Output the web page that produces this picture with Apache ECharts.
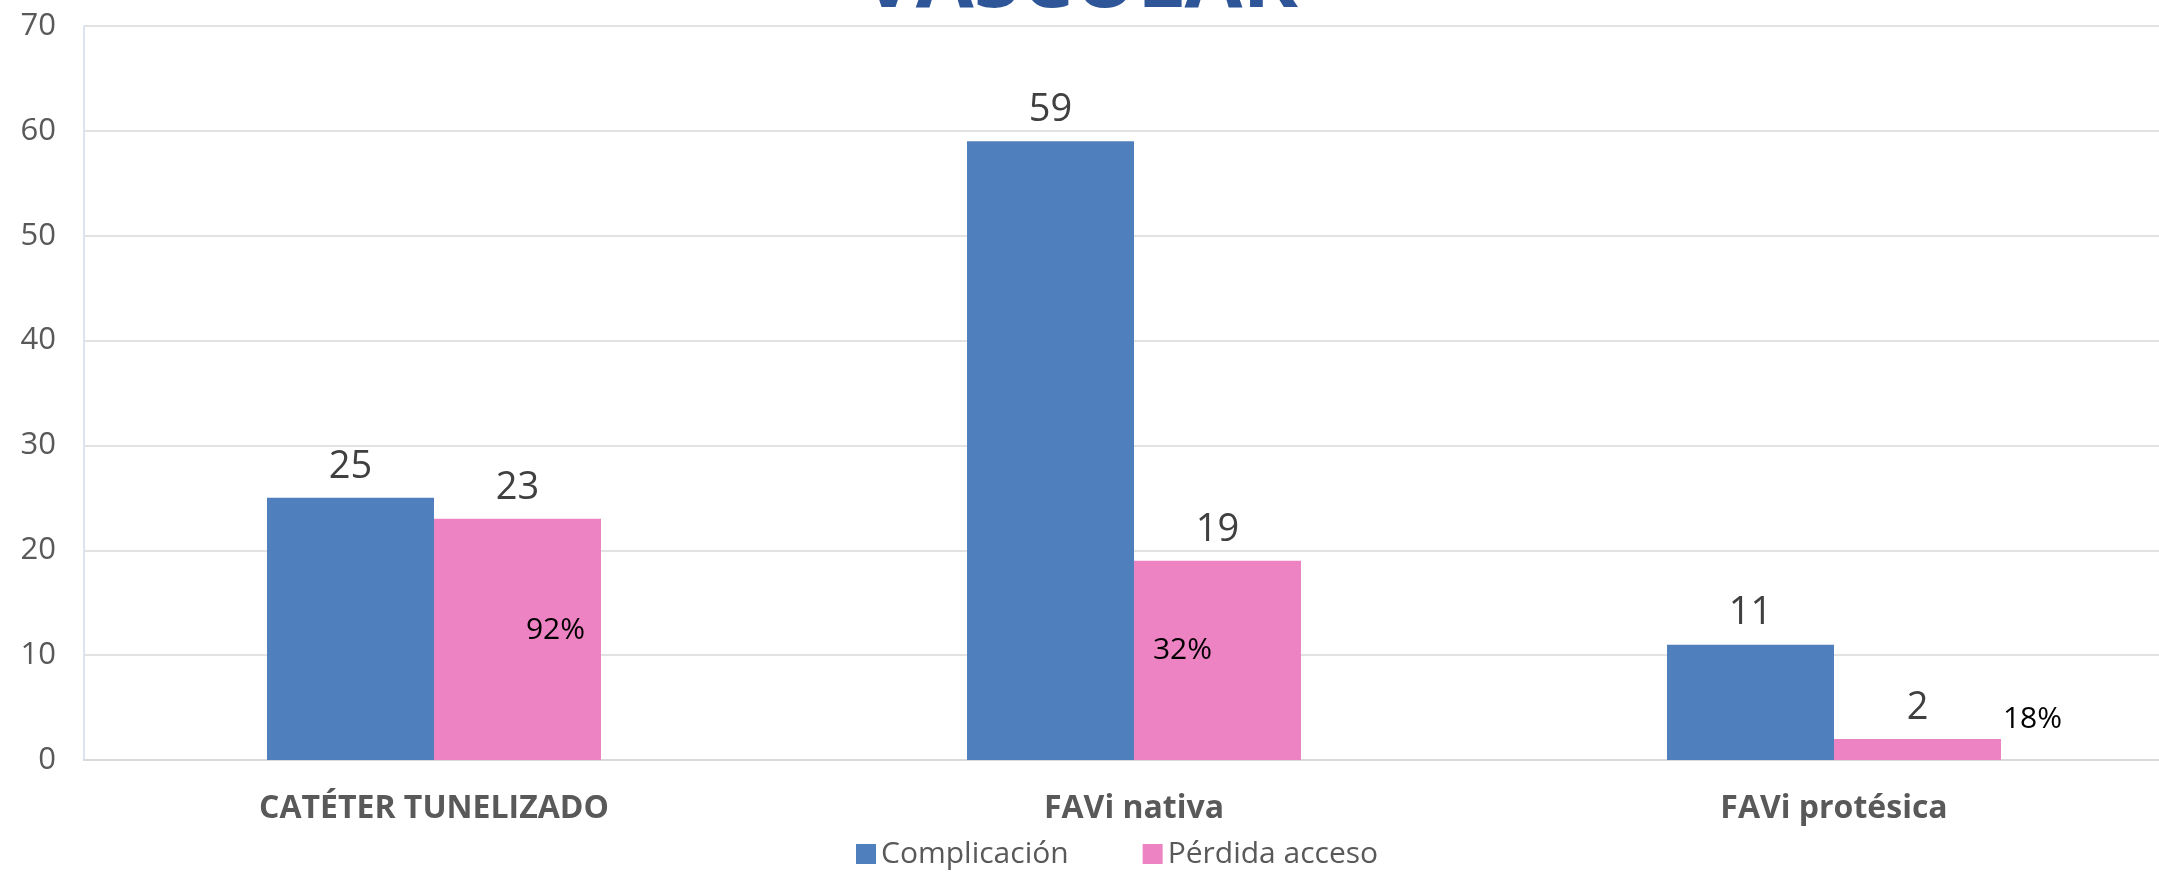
<!DOCTYPE html>
<html lang="es">
<head>
    <meta charset="UTF-8">
    <title>Acceso vascular</title>
    <style>
        html, body { margin: 0; padding: 0; background: #fff; }
    </style>
</head>
<body>

    <div id="echarts" style="width: 2159px; height: 874px"></div>
    <script src="https://cdn.jsdelivr.net/npm/echarts@6/dist/echarts.min.js"></script>
    <script>
        const categorias = ['CATÉTER TUNELIZADO', 'FAVi nativa', 'FAVi protésica'];
        const complicacion = [25, 59, 11];
        const perdidaAcceso = [23, 19, 2];
        const yTicks = [0, 10, 20, 30, 40, 50, 60, 70];

        // where the % text sits, relative to the top of each pink bar
        const pctOffsets = [[38, 112], [-35, 90], [115, -20]];

        const font = "'Open Sans', 'Noto Sans', sans-serif";

        const option = {
            animation: false,
            title: {
                text: 'VASCULAR',
                left: 'center',
                top: -64,
                textStyle: { color: '#2E5597', fontSize: 84, fontWeight: 'bold', fontFamily: font }
            },
            legend: {
                left: 851,
                bottom: 0,
                itemWidth: 20,
                itemHeight: 20,
                itemGap: 74,
                icon: 'rect',
                textStyle: { color: '#595959', fontSize: 30, fontFamily: font },
                data: ['Complicación', 'Pérdida acceso']
            },
            grid: { left: 84, right: -25, top: 26, bottom: 114, outerBoundsMode: 'none' },
            xAxis: {
                type: 'category',
                data: categorias,
                axisTick: { show: false },
                axisLine: { lineStyle: { color: '#D9D9D9', width: 2 } },
                axisLabel: { color: '#595959', fontSize: 32, fontWeight: 'bold', fontFamily: font, margin: 33 }
            },
            yAxis: {
                type: 'value',
                min: yTicks[0],
                max: yTicks[yTicks.length - 1],
                interval: 10,
                axisLine: { show: true, lineStyle: { color: '#DCE4F0', width: 2 } },
                axisTick: { show: false },
                splitLine: { lineStyle: { color: '#D9D9D9', width: 1.5 } },
                axisLabel: { color: '#595959', fontSize: 31, fontFamily: font, margin: 28 }
            },
            series: [
                {
                    name: 'Complicación',
                    type: 'bar',
                    data: complicacion,
                    barWidth: 167,
                    barGap: 0,
                    itemStyle: { color: '#4F80BD' },
                    label: { show: true, position: 'top', distance: 12, color: '#404040', fontSize: 38, fontFamily: font }
                },
                {
                    name: 'Pérdida acceso',
                    type: 'bar',
                    data: perdidaAcceso,
                    barWidth: 167,
                    barGap: 0,
                    itemStyle: { color: '#EE83C4' },
                    label: { show: true, position: 'top', distance: 12, color: '#404040', fontSize: 38, fontFamily: font },
                    markPoint: {
                        symbol: 'rect',
                        symbolSize: 0,
                        label: { show: true, color: '#000', fontSize: 30, fontFamily: font, position: 'inside' },
                        data: categorias.map((c, i) => ({
                            coord: [c, perdidaAcceso[i]],
                            value: Math.round(perdidaAcceso[i] / complicacion[i] * 100) + '%',
                            label: { offset: pctOffsets[i] }
                        }))
                    }
                }
            ]
        };

        var chartDom = document.getElementById("echarts");
        var myChart = echarts.init(chartDom);
        myChart.setOption(option);
    </script>
</body>
</html>
